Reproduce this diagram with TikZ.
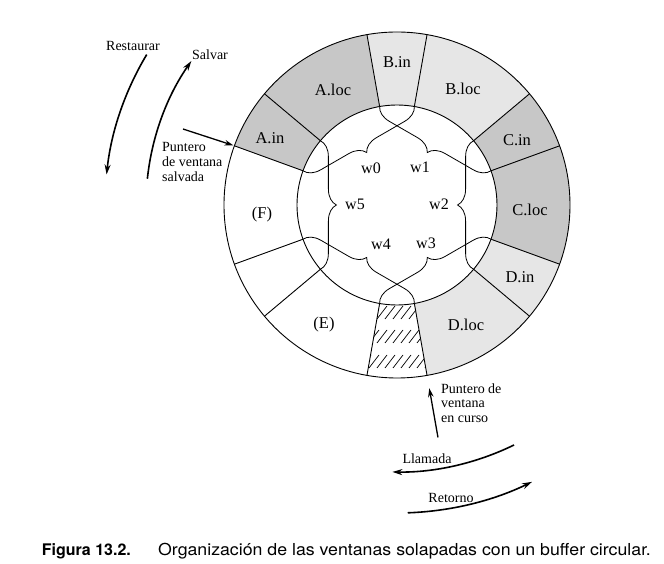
\documentclass[tikz,border=0pt]{standalone}
\usepackage{fontspec}
\setmainfont{Liberation Serif}
\newfontfamily\capfont{TeX Gyre Heros}
\newfontfamily\captextfont[FakeStretch=1.075]{TeX Gyre Heros}
\usetikzlibrary{arrows.meta,decorations.pathreplacing}
\definecolor{segdark}{RGB}{199,199,199}
\definecolor{seglight}{RGB}{230,230,230}
\newcommand\ringsector[3]{\fill[#1] (#2:173) arc[start angle=#2, end angle=#3, radius=173] -- (#3:100) arc[start angle=#3, end angle=#2, radius=100] -- cycle;}
\begin{document}
\begin{tikzpicture}[x=1pt,y=1pt,
  ringlabel/.style={font=\fontsize{16.5}{19}\selectfont, inner sep=0pt},
  wlabel/.style={font=\fontsize{16}{19}\selectfont, inner sep=0pt},
  outlabel/.style={font=\fontsize{14}{14.6}\selectfont, inner sep=0pt, align=left},
  ringline/.style={line width=0.9pt},
  hatchline/.style={line width=0.7pt},
  winbrace/.style={decorate, decoration={brace, amplitude=16pt}, line width=0.8pt},
  ptrarrow/.style={line width=1.3pt, -{Stealth[length=9pt,width=5.5pt]}},
  movearrow/.style={line width=1.6pt, -{Stealth[length=10pt,width=6pt]}},
]
\useasboundingbox (-397,-359) rectangle (267,205);
% sectors
\ringsector{segdark}{100}{140}
\ringsector{segdark}{140}{160}
\ringsector{segdark}{20}{40}
\ringsector{segdark}{-20}{20}
\ringsector{seglight}{80}{100}
\ringsector{seglight}{40}{80}
\ringsector{seglight}{-40}{-20}
\ringsector{seglight}{-80}{-40}
% hatching
\begin{scope}
\clip (-100:173) arc[start angle=-100,end angle=-80,radius=173] -- (-80:100) arc[start angle=-80,end angle=-100,radius=100] -- cycle;
\foreach \yb in {-114,-138,-163}
  \foreach \x in {-44,-36,...,44}
    \draw[hatchline] (\x,\yb) -- ++(10,13);
\end{scope}
% ring lines
\draw[ringline] (0,0) circle[radius=173];
\draw[ringline] (0,0) circle[radius=100];
\foreach \a in {20,40,80,100,140,160,200,220,260,280,320,340}
  \draw[ringline] (\a:100) -- (\a:173);
% braces
\draw[winbrace] (80:100) -- (160:100);
\draw[winbrace] (20:100) -- (100:100);
\draw[winbrace] (-40:100) -- (40:100);
\draw[winbrace] (-100:100) -- (-20:100);
\draw[winbrace] (200:100) -- (280:100);
\draw[winbrace] (140:100) -- (220:100);
% ring labels
\node[ringlabel] (bin) at (0,143) {B.in};
\node[ringlabel] (aloc) at (-64,115) {A.loc};
\node[ringlabel] (bloc) at (66,116) {B.loc};
\node[ringlabel] (ain) at (-127,67) {A.in};
\node[ringlabel] (cin) at (120,65) {C.in};
\node[ringlabel] (cloc) at (133,-5) {C.loc};
\node[ringlabel] (floc) at (-135,-10) {(F)};
\node[ringlabel] (din) at (123,-72) {D.in};
\node[ringlabel] (dloc) at (69,-120) {D.loc};
\node[ringlabel] (eloc) at (-73,-120) {(E)};
% window labels
\node[wlabel] (w0) at (-26,37) {w0};
\node[wlabel] (w1) at (23,38) {w1};
\node[wlabel] (w2) at (42,1) {w2};
\node[wlabel] (w5) at (-42,1) {w5};
\node[wlabel] (w4) at (-16,-39) {w4};
\node[wlabel] (w3) at (29,-38) {w3};
% outside labels
\node[outlabel] (restaurar) at (-264,159) {Restaurar};
\node[outlabel] (salvar) at (-187,150) {Salvar};
\node[outlabel, anchor=west] (psalv) at (-235,43) {Puntero\\de ventana\\salvada};
\node[outlabel, anchor=west] (pcurso) at (44,-198) {Puntero de\\ventana\\en curso};
\node[outlabel] (llamada) at (30,-254) {Llamada};
\node[outlabel] (retorno) at (54,-293) {Retorno};
% pointer arrows
\coordinate (psalvtail) at (-214,76);
\coordinate (psalvtip) at (160:174);
\draw[ptrarrow] (psalvtail) -- (psalvtip);
\coordinate (pcursotail) at (-80:236);
\coordinate (pcursotip) at (-80:186);
\draw[ptrarrow] (pcursotail) -- (pcursotip);
% movement arcs
\draw[movearrow] (149:292) arc[start angle=149, end angle=174, radius=292];
\draw[movearrow] (174:251) arc[start angle=174, end angle=145, radius=251];
\draw[movearrow] (-64:267) arc[start angle=-64, end angle=-91, radius=267];
\draw[movearrow] (-88:308) arc[start angle=-88, end angle=-64, radius=308];
% caption
\node[anchor=base west, inner sep=0pt, font=\capfont\bfseries\fontsize{16}{19}\selectfont] (capnum) at (-355.3,-350) {Figura 13.2.};
\node[anchor=base west, inner sep=0pt, font=\captextfont\fontsize{16.5}{19}\selectfont] (captext) at (-239,-350) {Organización de las ventanas solapadas con un buffer circular.};
\end{tikzpicture}
\end{document}
